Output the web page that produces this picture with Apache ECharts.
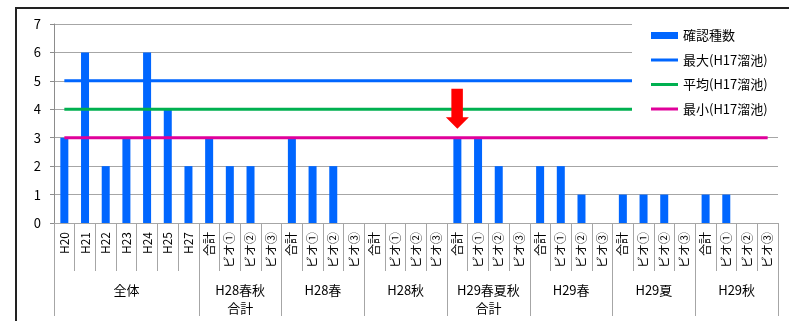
<!DOCTYPE html>
<html>
<head>
<meta charset="utf-8">
<script src="https://cdn.jsdelivr.net/npm/echarts@6/dist/echarts.min.js"></script>
<style>
  html, body { margin: 0; padding: 0; background: #fff; }
  #frame { position: absolute; left: 15px; top: 7px; width: 800px; height: 330px;
           border-left: 2px solid #222; border-top: 2px solid #222; }
  #chart { position: absolute; left: 0; top: 0; width: 789px; height: 321px; }
</style>
</head>
<body>
<div id="frame"></div>
<div id="chart"></div>
<script>
// Survey categories (year columns, then per-season totals and per-biotope counts)
const categories = [
  'H20', 'H21', 'H22', 'H23', 'H24', 'H25', 'H27',
  '合計', 'ビオ①', 'ビオ②', 'ビオ③',
  '合計', 'ビオ①', 'ビオ②', 'ビオ③',
  '合計', 'ビオ①', 'ビオ②', 'ビオ③',
  '合計', 'ビオ①', 'ビオ②', 'ビオ③',
  '合計', 'ビオ①', 'ビオ②', 'ビオ③',
  '合計', 'ビオ①', 'ビオ②', 'ビオ③',
  '合計', 'ビオ①', 'ビオ②', 'ビオ③'
];

// Number of confirmed species per column
const speciesCount = [
  3, 6, 2, 3, 6, 4, 2,
  3, 2, 2, 0,
  3, 2, 2, 0,
  0, 0, 0, 0,
  3, 3, 2, 0,
  2, 2, 1, 0,
  1, 1, 1, 0,
  1, 1, 0, 0
];

// Reference levels from the H17 pond survey
const maxH17 = [5, 5, 5, 5, 5, 5, 5, 5, 5, 5, 5, 5, 5, 5, 5, 5, 5, 5, 5, 5, 5, 5, 5, 5, 5, 5, 5, 5, 5, 5, 5, 5, 5, 5, 5];
const avgH17 = [4, 4, 4, 4, 4, 4, 4, 4, 4, 4, 4, 4, 4, 4, 4, 4, 4, 4, 4, 4, 4, 4, 4, 4, 4, 4, 4, 4, 4, 4, 4, 4, 4, 4, 4];
const minH17 = [3, 3, 3, 3, 3, 3, 3, 3, 3, 3, 3, 3, 3, 3, 3, 3, 3, 3, 3, 3, 3, 3, 3, 3, 3, 3, 3, 3, 3, 3, 3, 3, 3, 3, 3];

// Group headings under the columns and how many columns each covers
const groupNames = ['全体', 'H28春秋\n合計', 'H28春', 'H28秋', 'H29春夏秋\n合計', 'H29春', 'H29夏', 'H29秋'];
const groupSizes = [7, 4, 4, 4, 4, 4, 4, 4];

// Y axis ticks
const yMin = 0, yMax = 7, yStep = 1;

// Highlighted column (arrow)
const highlightIndex = 19;

// Build a half-step axis so group boundaries and centers both fall on tick positions
const halfSteps = categories.length * 2 + 1;
const groupAxisData = new Array(halfSteps).fill('');
const groupBoundaries = new Set([0]);
let pos = 0;
groupNames.forEach((name, i) => {
  const span = groupSizes[i] * 2;
  groupAxisData[pos + span / 2] = name;
  pos += span;
  groupBoundaries.add(pos);
});

const font = '"Noto Sans CJK JP", "Noto Sans", sans-serif';
const gridGray = '#a6a6a6';
const lineIcon = 'path://M0,0 L27,0 L27,3 L0,3 Z';

const chart = echarts.init(document.getElementById('chart'), null, { renderer: 'canvas' });
chart.setOption({
  animation: false,
  backgroundColor: 'transparent',
  textStyle: { fontFamily: font, color: '#000' },
  grid: { left: 54, right: 11, top: 24, bottom: 98 },
  legend: {
    orient: 'vertical',
    left: 632,
    top: 18,
    padding: [11, 26, 9, 19],
    backgroundColor: '#fff',
    itemWidth: 27,
    itemHeight: 7,
    itemGap: 11.5,
    symbolKeepAspect: true,
    textStyle: { fontFamily: font, fontSize: 13, color: '#000' },
    data: [
      { name: '確認種数', icon: 'rect' },
      { name: '最大(H17溜池)', icon: lineIcon },
      { name: '平均(H17溜池)', icon: lineIcon },
      { name: '最小(H17溜池)', icon: lineIcon }
    ]
  },
  xAxis: [
    {
      type: 'category',
      data: categories,
      axisLine: { lineStyle: { color: gridGray } },
      axisTick: { show: true, interval: 0, length: 48, lineStyle: { color: gridGray } },
      axisLabel: { interval: 0, rotate: 90, margin: 9, fontSize: 12, color: '#000', fontFamily: font }
    },
    {
      type: 'category',
      position: 'bottom',
      boundaryGap: false,
      data: groupAxisData,
      axisLine: { show: false },
      axisTick: {
        show: true,
        length: 93,
        interval: (idx) => groupBoundaries.has(idx),
        lineStyle: { color: gridGray }
      },
      axisLabel: {
        interval: (idx, val) => val !== '',
        margin: 58,
        fontSize: 13,
        lineHeight: 18,
        color: '#000',
        fontFamily: font
      },
      splitLine: { show: false }
    }
  ],
  yAxis: {
    type: 'value',
    min: yMin,
    max: yMax,
    interval: yStep,
    axisLine: { show: true, lineStyle: { color: '#8c8c8c' } },
    axisTick: { show: true, length: 4, lineStyle: { color: '#8c8c8c' } },
    axisLabel: { margin: 13, fontSize: 13, color: '#000', fontFamily: font },
    splitLine: { lineStyle: { color: gridGray } }
  },
  series: [
    {
      name: '確認種数',
      type: 'bar',
      xAxisIndex: 0,
      data: speciesCount,
      barWidth: 8,
      itemStyle: { color: '#0066ff' },
      z: 2,
      markPoint: {
        silent: true,
        symbol: 'path://M5.5,0 L17,0 L17,28.5 L23,28.5 L11.5,40 L0,28.5 L5.5,28.5 Z',
        symbolSize: [23, 40],
        symbolKeepAspect: false,
        symbolOffset: [0, -29],
        itemStyle: { color: '#ff0000' },
        label: { show: false },
        data: [{ coord: [highlightIndex, speciesCount[highlightIndex]] }]
      }
    },
    {
      name: '最大(H17溜池)',
      type: 'line',
      xAxisIndex: 0,
      data: maxH17,
      symbol: 'none',
      lineStyle: { color: '#0066ff', width: 3 },
      itemStyle: { color: '#0066ff' },
      z: 3
    },
    {
      name: '平均(H17溜池)',
      type: 'line',
      xAxisIndex: 0,
      data: avgH17,
      symbol: 'none',
      lineStyle: { color: '#00b050', width: 3 },
      itemStyle: { color: '#00b050' },
      z: 3
    },
    {
      name: '最小(H17溜池)',
      type: 'line',
      xAxisIndex: 0,
      data: minH17,
      symbol: 'none',
      lineStyle: { color: '#e0009a', width: 3 },
      itemStyle: { color: '#e0009a' },
      z: 3
    }
  ]
});
</script>
</body>
</html>
